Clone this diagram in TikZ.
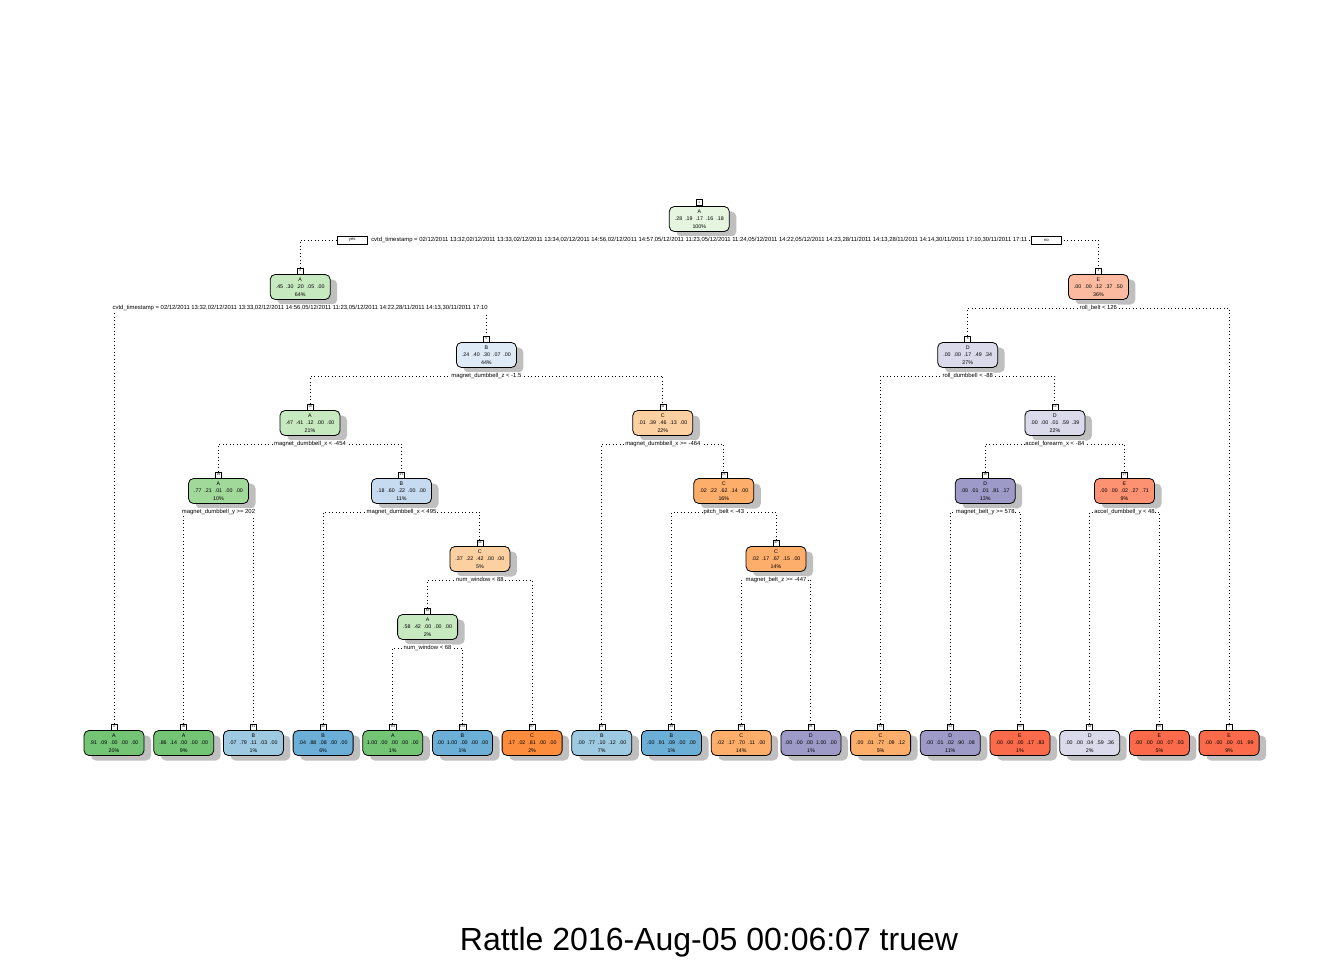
\documentclass[tikz,border=0pt]{standalone}
\usepackage{fontspec}
\setmainfont{Liberation Sans}
\usetikzlibrary{shadows}
\definecolor{Aa}{HTML}{E5F5E0}\definecolor{Ab}{HTML}{C7E9C0}\definecolor{Ac}{HTML}{A1D99B}\definecolor{Ad}{HTML}{74C476}
\definecolor{Ba}{HTML}{DEEBF7}\definecolor{Bb}{HTML}{C6DBEF}\definecolor{Bc}{HTML}{9ECAE1}\definecolor{Bd}{HTML}{6BAED6}
\definecolor{Cb}{HTML}{FDD0A2}\definecolor{Cc}{HTML}{FDAE6B}\definecolor{Cd}{HTML}{FD8D3C}
\definecolor{Db}{HTML}{DADAEB}\definecolor{Dd}{HTML}{9E9AC8}
\definecolor{Eb}{HTML}{FCBBA1}\definecolor{Ec}{HTML}{FC9272}\definecolor{Ed}{HTML}{FB6A4A}
\newcommand\tvals[5]{#1\hspace{3pt}#2\hspace{3pt}#3\hspace{3pt}#4\hspace{3pt}#5}
\newcommand\tinfo[3]{#1\\\tvals#2\\#3}
\tikzset{
  tn/.style={draw=black, line width=0.8pt, rounded corners=5pt, minimum width=60pt, minimum height=25pt,
    inner sep=0pt, align=center, font=\fontsize{5.3}{7.4}\selectfont,
    drop shadow={shadow xshift=7pt, shadow yshift=-5pt, fill=black!25, opacity=1}},
  num/.style={draw=black, line width=0.6pt, fill=white, minimum width=6pt, minimum height=6pt,
    inner xsep=0.8pt, inner ysep=0pt, font=\fontsize{3}{3}\selectfont, anchor=south},
  lbl/.style={fill=white, inner xsep=0.5pt, inner ysep=1pt, font=\fontsize{5.9}{6}\selectfont},
  yn/.style={draw=black, line width=0.7pt, fill=white, minimum width=30pt, minimum height=8pt,
    inner sep=0pt, font=\fontsize{4.2}{4.2}\selectfont},
  dots/.style={line width=0.9pt, dash pattern=on 0.9pt off 2.6pt},
}
\begin{document}
\begin{tikzpicture}[x=1pt, y=-1pt]
\fill[white] (0,0) rectangle (1344,960);
\useasboundingbox (0,0) rectangle (1344,960);
% internal nodes
\node[tn, fill=Aa] (n1) at (699.3,219) {\tinfo{A}{{.28}{.19}{.17}{.16}{.18}}{100\%}};
\node[tn, fill=Ab] (n2) at (300.2,287) {\tinfo{A}{{.45}{.30}{.20}{.05}{.00}}{64\%}};
\node[tn, fill=Eb] (n3) at (1098.4,287) {\tinfo{E}{{.00}{.00}{.12}{.37}{.50}}{36\%}};
\node[tn, fill=Ba] (n5) at (486.4,355) {\tinfo{B}{{.24}{.40}{.30}{.07}{.00}}{44\%}};
\node[tn, fill=Db] (n6) at (967.7,355) {\tinfo{D}{{.00}{.00}{.17}{.49}{.34}}{27\%}};
\node[tn, fill=Ab] (n10) at (310,423) {\tinfo{A}{{.47}{.41}{.12}{.00}{.00}}{21\%}};
\node[tn, fill=Cb] (n11) at (662.8,423) {\tinfo{C}{{.01}{.39}{.46}{.13}{.00}}{22\%}};
\node[tn, fill=Db] (n13) at (1054.9,423) {\tinfo{D}{{.00}{.00}{.01}{.59}{.39}}{22\%}};
\node[tn, fill=Ac] (n20) at (218.5,491) {\tinfo{A}{{.77}{.21}{.01}{.00}{.00}}{10\%}};
\node[tn, fill=Bb] (n21) at (401.5,491) {\tinfo{B}{{.18}{.60}{.22}{.00}{.00}}{11\%}};
\node[tn, fill=Cc] (n23) at (723.8,491) {\tinfo{C}{{.02}{.22}{.62}{.14}{.00}}{16\%}};
\node[tn, fill=Dd] (n26) at (985.2,491) {\tinfo{D}{{.00}{.01}{.01}{.81}{.17}}{13\%}};
\node[tn, fill=Ec] (n27) at (1124.5,491) {\tinfo{E}{{.00}{.00}{.02}{.27}{.71}}{9\%}};
\node[tn, fill=Cb] (n43) at (479.9,559) {\tinfo{C}{{.37}{.22}{.42}{.00}{.00}}{5\%}};
\node[tn, fill=Cc] (n47) at (776,559) {\tinfo{C}{{.02}{.17}{.67}{.15}{.00}}{14\%}};
\node[tn, fill=Ab] (n86) at (427.6,627) {\tinfo{A}{{.58}{.42}{.00}{.00}{.00}}{2\%}};
% leaves
\node[tn, fill=Ad] (n4) at (114,743) {\tinfo{A}{{.91}{.09}{.00}{.00}{.00}}{20\%}};
\node[tn, fill=Ad] (n40) at (183.7,743) {\tinfo{A}{{.86}{.14}{.00}{.00}{.00}}{9\%}};
\node[tn, fill=Bc] (n41) at (253.4,743) {\tinfo{B}{{.07}{.79}{.11}{.03}{.00}}{1\%}};
\node[tn, fill=Bd] (n42) at (323.1,743) {\tinfo{B}{{.04}{.88}{.08}{.00}{.00}}{6\%}};
\node[tn, fill=Ad] (n172) at (392.8,743) {\tinfo{A}{{1.00}{.00}{.00}{.00}{.00}}{1\%}};
\node[tn, fill=Bd] (n173) at (462.5,743) {\tinfo{B}{{.00}{1.00}{.00}{.00}{.00}}{1\%}};
\node[tn, fill=Cd] (n87) at (532.1,743) {\tinfo{C}{{.17}{.02}{.81}{.00}{.00}}{2\%}};
\node[tn, fill=Bc] (n22) at (601.8,743) {\tinfo{B}{{.00}{.77}{.10}{.12}{.00}}{7\%}};
\node[tn, fill=Bd] (n46) at (671.5,743) {\tinfo{B}{{.00}{.91}{.09}{.00}{.00}}{1\%}};
\node[tn, fill=Cc] (n94) at (741.2,743) {\tinfo{C}{{.02}{.17}{.70}{.11}{.00}}{14\%}};
\node[tn, fill=Dd] (n95) at (810.9,743) {\tinfo{D}{{.00}{.00}{.00}{1.00}{.00}}{1\%}};
\node[tn, fill=Cc] (n12) at (880.6,743) {\tinfo{C}{{.00}{.01}{.77}{.09}{.12}}{5\%}};
\node[tn, fill=Dd] (n52) at (950.3,743) {\tinfo{D}{{.00}{.01}{.02}{.90}{.08}}{11\%}};
\node[tn, fill=Ed] (n53) at (1020,743) {\tinfo{E}{{.00}{.00}{.00}{.17}{.83}}{1\%}};
\node[tn, fill=Db] (n54) at (1089.7,743) {\tinfo{D}{{.00}{.00}{.04}{.59}{.36}}{2\%}};
\node[tn, fill=Ed] (n55) at (1159.4,743) {\tinfo{E}{{.00}{.00}{.00}{.07}{.93}}{5\%}};
\node[tn, fill=Ed] (n7) at (1229.1,743) {\tinfo{E}{{.00}{.00}{.00}{.01}{.99}}{9\%}};
% node number boxes
\foreach \k in {1,2,3,4,5,6,7,10,11,12,13,20,21,22,23,26,27,40,41,42,43,46,47,52,53,54,55,86,87,94,95,172,173}
  \node[num] (k\k) at (n\k.north) {\k};
% split line levels
\coordinate (c1) at (699.3,240);
\coordinate (c2) at (300.2,308);
\coordinate (c3) at (1098.4,308);
\coordinate (c5) at (486.4,376);
\coordinate (c6) at (967.7,376);
\coordinate (c10) at (310,444);
\coordinate (c11) at (662.8,444);
\coordinate (c13) at (1054.9,444);
\coordinate (c20) at (218.5,512);
\coordinate (c21) at (401.5,512);
\coordinate (c23) at (723.8,512);
\coordinate (c26) at (985.2,512);
\coordinate (c27) at (1124.5,512);
\coordinate (c43) at (479.9,580);
\coordinate (c47) at (776,580);
\coordinate (c86) at (427.6,648);
% connectors
\foreach \p/\l/\r in {1/2/3, 2/4/5, 3/6/7, 5/10/11, 6/12/13, 10/20/21, 11/22/23, 13/26/27,
    20/40/41, 21/42/43, 23/46/47, 26/52/53, 27/54/55, 43/86/87, 47/94/95, 86/172/173}
  \draw[dots] (k\l.north) -- (k\l.north |- c\p) -- (k\r.north |- c\p) -- (k\r.north);
% split labels
\node[lbl] (s1) at (c1) {cvtd\_timestamp = 02/12/2011 13:32,02/12/2011 13:33,02/12/2011 13:34,02/12/2011 14:56,02/12/2011 14:57,05/12/2011 11:23,05/12/2011 11:24,05/12/2011 14:22,05/12/2011 14:23,28/11/2011 14:13,28/11/2011 14:14,30/11/2011 17:10,30/11/2011 17:11};
\node[yn, anchor=east] (yes) at ([xshift=-3pt]s1.west) {yes};
\node[yn, anchor=west] (no) at ([xshift=3pt]s1.east) {no};
\node[lbl] (s2) at (c2) {cvtd\_timestamp = 02/12/2011 13:32,02/12/2011 13:33,02/12/2011 14:56,05/12/2011 11:23,05/12/2011 14:22,28/11/2011 14:13,30/11/2011 17:10};
\node[lbl] (s3) at (c3) {roll\_belt < 126};
\node[lbl] (s5) at (c5) {magnet\_dumbbell\_z < -1.5};
\node[lbl] (s6) at (c6) {roll\_dumbbell < -88};
\node[lbl] (s10) at (c10) {magnet\_dumbbell\_x < -454};
\node[lbl] (s11) at (c11) {magnet\_dumbbell\_x >= -464};
\node[lbl] (s13) at (c13) {accel\_forearm\_x < -84};
\node[lbl] (s20) at (c20) {magnet\_dumbbell\_y >= 202};
\node[lbl] (s21) at (c21) {magnet\_dumbbell\_x < 495};
\node[lbl] (s23) at (c23) {pitch\_belt < -43};
\node[lbl] (s26) at (c26) {magnet\_belt\_y >= 578};
\node[lbl] (s27) at (c27) {accel\_dumbbell\_y < 48};
\node[lbl] (s43) at (c43) {num\_window < 88};
\node[lbl] (s47) at (c47) {magnet\_belt\_z >= -447};
\node[lbl] (s86) at (c86) {num\_window < 68};
% title
\node[anchor=base, font=\fontsize{32}{32}\selectfont, inner sep=0pt] (title) at (709,950) {Rattle 2016-Aug-05 00:06:07 truew};
\end{tikzpicture}
\end{document}
